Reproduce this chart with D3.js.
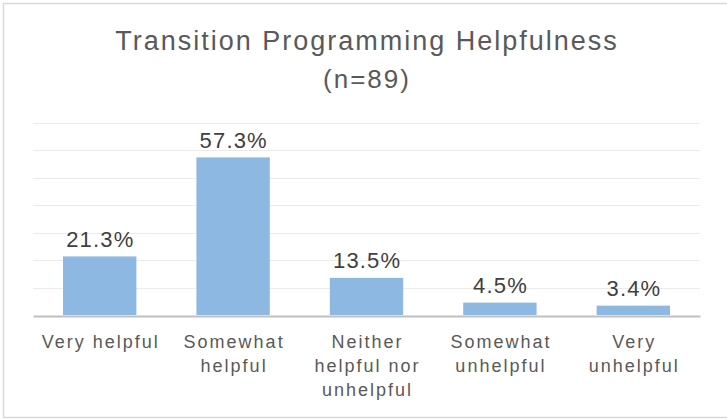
<!DOCTYPE html>
<html>
<head>
<meta charset="utf-8">
<script src="https://cdn.jsdelivr.net/npm/d3@7"></script>
<style>
  html, body { margin: 0; padding: 0; background: #ffffff; }
  svg { display: block; }
  text { font-family: "Liberation Sans", Arial, sans-serif; }
</style>
</head>
<body>
<svg id="chart" width="727" height="419"></svg>
<script>
const titleLines = ["Transition Programming Helpfulness", "(n=89)"];
const categories = ["Very helpful", "Somewhat helpful", "Neither helpful nor unhelpful", "Somewhat unhelpful", "Very unhelpful"];
const values = [21.3, 57.3, 13.5, 4.5, 3.4];
const gridTicks = [0, 10, 20, 30, 40, 50, 60, 70];

const svg = d3.select("#chart");
const W = 727, H = 419;
const margin = { left: 33, right: 27, top: 122.5, bottom: 104 };

// chart border
svg.append("rect")
  .attr("x", 3.5).attr("y", 3.5)
  .attr("width", 740).attr("height", 414)
  .attr("fill", "#ffffff")
  .attr("stroke", "#d9d9d9")
  .attr("stroke-width", 1.5);

// helper: centered text with tracking
function trackedText(parent, cx, cy, str, size, spacing, sx, fill) {
  const g = parent.append("g").attr("transform", `translate(${cx + spacing / 2},${cy}) scale(${sx},1)`);
  return g.append("text")
    .attr("x", 0).attr("y", 0)
    .attr("text-anchor", "middle")
    .attr("fill", fill)
    .attr("font-size", size)
    .attr("letter-spacing", spacing)
    .text(str);
}

// title
const titleG = svg.append("g");
titleLines.forEach((l, i) => {
  trackedText(titleG, 366, i === 0 ? 49.5 : 88, l, i === 0 ? 27 : 26, 2, 1, "#595959");
});

const x = d3.scaleBand()
  .domain(categories)
  .range([margin.left, W - margin.right])
  .paddingInner(0.45)
  .paddingOuter(0.225);

const y = d3.scaleLinear()
  .domain([0, 70])
  .range([315, margin.top]);

// gridlines
svg.append("g")
  .selectAll("line")
  .data(gridTicks.filter(t => t > 0))
  .join("line")
  .attr("x1", margin.left).attr("x2", W - margin.right)
  .attr("y1", d => Math.round(y(d)) + 0.5)
  .attr("y2", d => Math.round(y(d)) + 0.5)
  .attr("stroke", "#ebebeb")
  .attr("stroke-width", 1.2);

// bars
svg.append("g")
  .selectAll("rect")
  .data(values)
  .join("rect")
  .attr("x", (d, i) => x(categories[i]))
  .attr("width", x.bandwidth())
  .attr("y", d => y(d))
  .attr("height", d => y(0) - y(d))
  .attr("fill", "#8cb8e1");

// baseline axis
const xAxis = d3.axisBottom(x).tickSize(0).tickFormat("");
const axisG = svg.append("g")
  .attr("transform", `translate(0,${y(0) + 1})`)
  .call(xAxis);
axisG.select(".domain").attr("stroke", "#bfbfbf").attr("stroke-width", 2);

// data labels
const dl = svg.append("g");
values.forEach((v, i) => {
  trackedText(dl, x(categories[i]) + x.bandwidth() / 2, y(v) - 9.5, v.toFixed(1) + "%", 22, 1.15, 1, "#404040");
});

// category labels with wrapping
const labelSize = 18, labelSpacing = 2, maxW = x.step() - 6;
const labG = svg.append("g");
categories.forEach(cat => {
  const cx = x(cat) + x.bandwidth() / 2;
  const probe = labG.append("text").attr("font-size", labelSize)
    .attr("letter-spacing", labelSpacing).attr("visibility", "hidden");
  const words = cat.split(" ");
  const lines = [];
  let line = [];
  words.forEach(w => {
    const test = line.concat([w]).join(" ");
    probe.text(test);
    if (probe.node().getComputedTextLength() > maxW && line.length) {
      lines.push(line.join(" "));
      line = [w];
    } else {
      line.push(w);
    }
  });
  lines.push(line.join(" "));
  probe.remove();
  lines.forEach((l, i) => {
    trackedText(labG, cx, 347.5 + i * 24, l, labelSize, labelSpacing, 1, "#595959");
  });
});
</script>
</body>
</html>
